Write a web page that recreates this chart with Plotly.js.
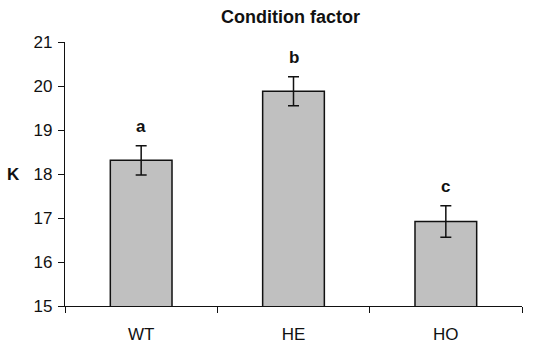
<!DOCTYPE html>
<html><head><meta charset="utf-8">
<script src="https://cdn.plot.ly/plotly-3.0.1.min.js"></script>
<style>html,body{margin:0;padding:0;background:#fff}#chart{width:533px;height:346px}</style>
</head><body><div id="chart"></div>
<script>
const categories = ["WT", "HE", "HO"];
const meanK = [18.31, 19.88, 16.92];
const seK = [0.33, 0.33, 0.36];
const groupLetters = ["a", "b", "c"];
const yTicks = [15, 16, 17, 18, 19, 20, 21];

const font = "Liberation Sans, Arial, sans-serif";

const trace = {
  type: "bar",
  x: categories,
  y: meanK,
  marker: {color: "#c0c0c0", line: {color: "#111", width: 1.5}},
  error_y: {type: "data", array: seK, visible: true, color: "#111", thickness: 1.5, width: 5.5},
  hoverinfo: "none"
};

const annotations = categories.map((c, i) => ({
  x: c, y: meanK[i] + seK[i], xref: "x", yref: "y",
  text: "<b>" + groupLetters[i] + "</b>", showarrow: false,
  yanchor: "bottom", yshift: 8,
  font: {family: font, size: 17, color: "#111"}
}));
annotations.push({
  xref: "paper", yref: "y", x: 0, y: 18, xanchor: "right", xshift: -43,
  text: "<b>K</b>", showarrow: false,
  font: {family: font, size: 17, color: "#111"}
});

const layout = {
  width: 533, height: 346,
  margin: {l: 65, r: 11, t: 42, b: 40},
  paper_bgcolor: "#fff", plot_bgcolor: "#fff",
  showlegend: false,
  bargap: 0.595,
  title: {text: "<b>Condition factor</b>", x: 0.545, xanchor: "center", y: 0.953, yanchor: "middle",
          font: {family: font, size: 18, color: "#111"}},
  xaxis: {
    type: "category", tickson: "boundaries", ticks: "outside", ticklen: 6, tickcolor: "#111",
    showline: true, linecolor: "#111", linewidth: 1.2, showgrid: false, zeroline: false,
    tickfont: {family: font, size: 17, color: "#111"}, ticklabelstandoff: 12,
    fixedrange: true
  },
  yaxis: {
    range: [15, 21], tickvals: yTicks,
    ticks: "outside", ticklen: 6, tickcolor: "#111",
    showline: true, linecolor: "#111", linewidth: 1.2, showgrid: false, zeroline: false,
    tickfont: {family: font, size: 17, color: "#111"}, ticklabelstandoff: 2,
    fixedrange: true
  },
  annotations: annotations
};

Plotly.newPlot("chart", [trace], layout, {displayModeBar: false, staticPlot: true});
</script></body></html>
